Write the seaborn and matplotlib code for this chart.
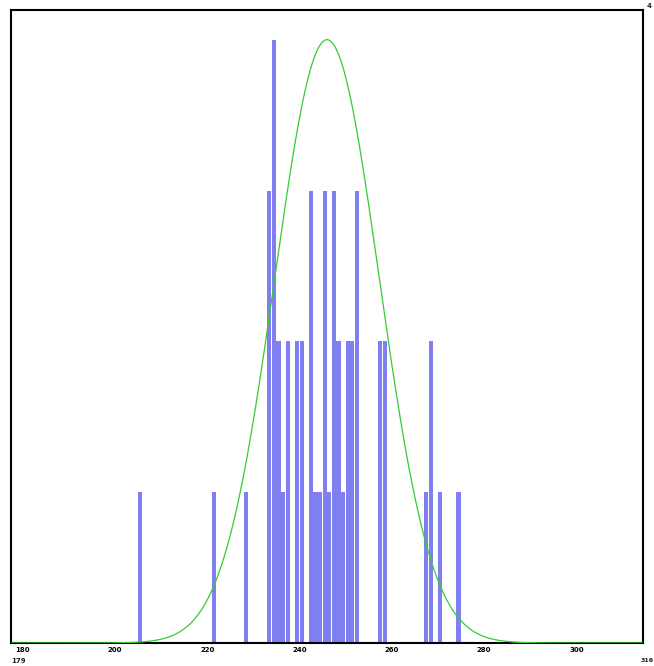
import numpy as np
import pandas as pd
import matplotlib
matplotlib.use("Agg")
import matplotlib.pyplot as plt
import seaborn as sns

# Frequency of each observed value
values = [207, 223, 230, 235, 236, 237, 238, 239, 241, 242, 244, 245, 246,
          247, 248, 249, 250, 251, 252, 253, 254, 259, 260, 269, 270, 272, 276]
counts = [1, 1, 1, 3, 4, 2, 1, 2, 2, 2, 3, 1, 1,
          3, 1, 3, 2, 1, 2, 2, 3, 2, 2, 1, 2, 1, 1]

# Fitted normal curve, scaled to the tallest bar
curve_mean = 247.5
curve_sd = 11.3

x_min, x_max = 179, 316
x_ticks = [180, 200, 220, 240, 260, 280, 300]

bar_color = "#7f7ff0"
curve_color = "#33cc33"

sns.set_style("white")
plt.rcParams["font.family"] = ["DejaVu Sans"]

W, H = 654, 666
fig = plt.figure(figsize=(W / 100, H / 100), dpi=100)
ax = fig.add_axes([11 / W, (H - 643) / H, (643 - 11) / W, (643 - 9.5) / H])

df = pd.DataFrame({"value": values, "count": counts})
sns.histplot(data=df, x="value", weights="count", discrete=True, shrink=0.92,
             color=bar_color, alpha=1.0, edgecolor="none", linewidth=0, ax=ax)

curve_peak = max(counts)
xs = np.linspace(x_min, x_max, 800)
ys = curve_peak * np.exp(-0.5 * ((xs - curve_mean) / curve_sd) ** 2)
sns.lineplot(x=xs, y=ys, color=curve_color, linewidth=0.9, ax=ax, zorder=3)

ax.set_xlim(x_min, x_max)
ax.set_ylim(0, 4.2)
ax.set_xlabel("")
ax.set_ylabel("")
ax.set_yticks([])
ax.set_xticks(x_ticks)
ax.set_xticklabels([str(t) for t in x_ticks], fontsize=5, fontweight="bold",
                   ha="left")
ax.tick_params(axis="x", direction="in", length=2, width=0.8, pad=3,
               colors="black")

for s in ax.spines.values():
    s.set_visible(True)
    s.set_color("black")
    s.set_linewidth(1.5)

# Range labels at the corners
ax.text(x_min, -0.1, f"{x_min}", transform=ax.transData, fontsize=5,
        fontweight="bold", ha="left", va="top", clip_on=False)
ax.text(1.0, -0.1, f"{x_max}", transform=ax.get_yaxis_transform(),
        fontsize=4.5, fontweight="bold", ha="right", va="top", clip_on=False,
        position=(1.0 + 10.5 / (643 - 11), -0.1))
ax.text(1.005, 1.0, f"{curve_peak}", transform=ax.transAxes, fontsize=5,
        fontweight="bold", ha="left", va="bottom", clip_on=False)

fig.savefig("out.png", dpi=100)
